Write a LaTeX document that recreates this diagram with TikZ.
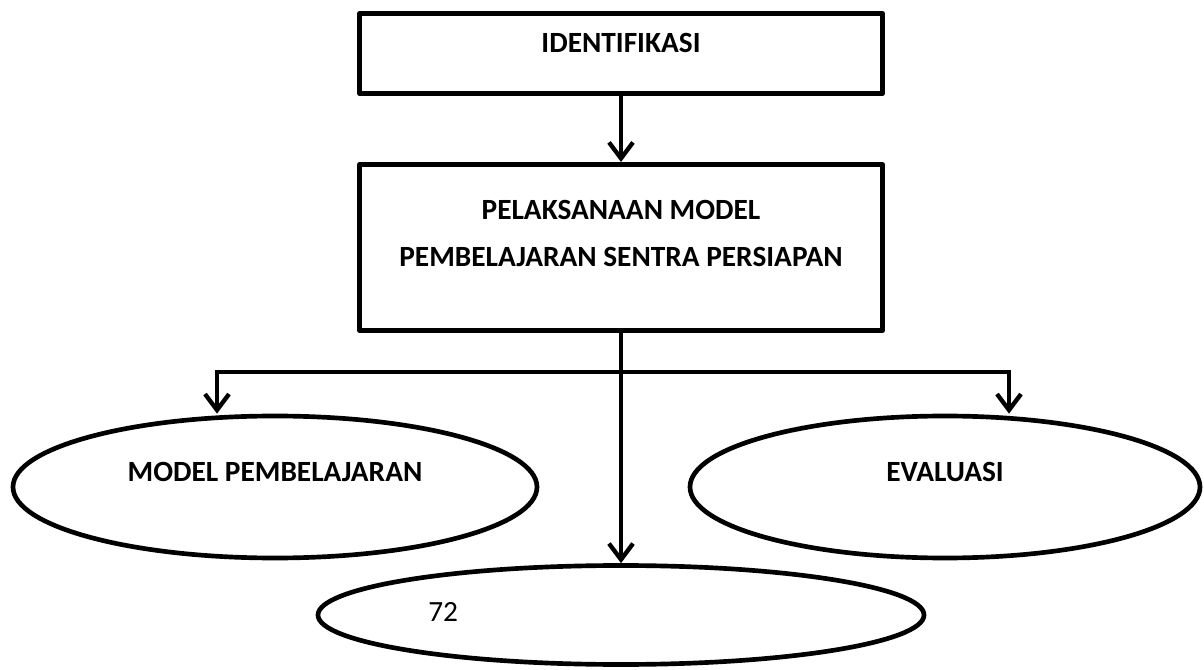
\documentclass[tikz,border=0pt]{standalone}
\usepackage{fontspec}
\setmainfont{Carlito}
\usetikzlibrary{shapes.geometric,arrows.meta}

\begin{document}
\begin{tikzpicture}[x=0.75pt,y=-0.75pt,
  kotak/.style={draw,line width=3.75pt,rectangle,line join=round,minimum width=392pt,font=\bfseries\fontsize{22pt}{35pt}\selectfont,align=center},
  elips/.style={draw,line width=3.5pt,ellipse,inner sep=0pt,font=\bfseries\fontsize{22pt}{26pt}\selectfont},
  panah/.style={line width=3.25pt,-{Straight Barb[length=12pt,width=18pt]}}]
  \useasboundingbox (0,0) rectangle (1204,670);
  \node[kotak,minimum height=60pt,text height=14pt,text depth=15.75pt] (identifikasi) at (621,53.5) {IDENTIFIKASI};
  \node[kotak,minimum height=124.5pt] (pelaksanaan) at (621,247.5) {PELAKSANAAN MODEL\\PEMBELAJARAN SENTRA PERSIAPAN\rule[-21pt]{0pt}{0pt}};
  \node[elips,minimum width=393pt,minimum height=106.5pt,text height=14pt,text depth=22.5pt] (model) at (275,487) {MODEL PEMBELAJARAN};
  \node[elips,minimum width=382.5pt,minimum height=106.5pt,text height=14pt,text depth=22.5pt] (evaluasi) at (945,487) {EVALUASI};
  \node[elips,minimum width=454.5pt,minimum height=74.25pt,font=\fontsize{22pt}{26pt}\selectfont,text height=14pt,text depth=4.5pt] (hasil) at (621,615) {\makebox[289pt][l]{72}};
  \coordinate (hubung) at (621,372);
  \coordinate (kiri) at (217,372);
  \coordinate (kanan) at (1009,372);
  \draw[panah] (identifikasi) -- (pelaksanaan);
  \draw[panah] (pelaksanaan) -- (hasil);
  \draw[panah] (hubung) -- (kiri) -- (kiri |- model.north);
  \draw[panah] (hubung) -- (kanan) -- (kanan |- evaluasi.north);
\end{tikzpicture}
\end{document}
